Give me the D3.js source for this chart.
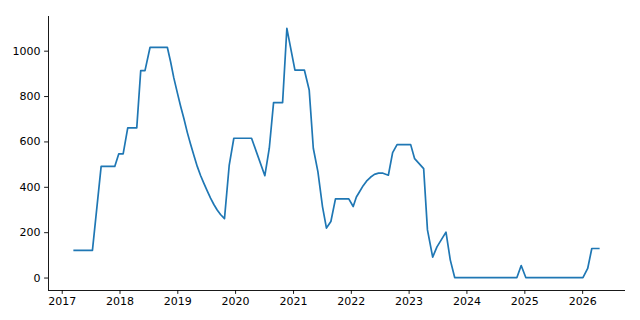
<!DOCTYPE html>
<html>
<head>
<meta charset="utf-8">
<script src="https://cdn.jsdelivr.net/npm/d3@7"></script>
<style>
  body { margin: 0; background: #fff; }
  svg { display: block; }
  .tick text { font-family: "DejaVu Sans", sans-serif; font-size: 11px; fill: #000; }
</style>
</head>
<body>
<div id="chart"></div>
<script>
// Dates of each point
var dates = [
    "2017-03-21", "2017-07-14", "2017-09-07", "2017-12-02", "2017-12-27",
    "2018-01-24", "2018-02-22", "2018-04-20", "2018-05-15", "2018-06-11",
    "2018-07-13", "2018-10-30", "2018-11-20", "2018-12-10", "2019-01-01",
    "2019-01-22", "2019-02-12", "2019-03-05", "2019-03-26", "2019-04-16",
    "2019-05-07", "2019-05-28", "2019-06-18", "2019-07-09", "2019-07-30",
    "2019-08-20", "2019-09-10", "2019-10-01", "2019-10-26", "2019-11-25",
    "2019-12-24", "2020-04-14", "2020-07-07", "2020-08-04", "2020-08-31",
    "2020-10-27", "2020-11-23", "2021-01-13", "2021-03-14", "2021-04-13",
    "2021-05-09", "2021-06-07", "2021-07-06", "2021-07-31", "2021-08-28",
    "2021-09-26", "2021-12-19", "2022-01-16", "2022-02-05", "2022-02-25",
    "2022-03-20", "2022-04-10", "2022-05-05", "2022-05-30", "2022-06-25",
    "2022-07-23", "2022-08-26", "2022-09-22", "2022-10-20", "2023-01-14",
    "2023-02-08", "2023-04-06", "2023-04-30", "2023-06-02", "2023-06-29",
    "2023-08-25", "2023-09-21", "2023-10-19", "2024-11-15", "2024-12-12",
    "2025-01-10", "2026-01-06", "2026-02-05", "2026-03-03", "2026-04-16"
];
// Values at each date
var values = [
    120, 120, 490, 490, 545,
    545, 660, 660, 912, 912,
    1015, 1015, 950, 880, 815,
    755, 700, 640, 588, 538,
    490, 450, 415, 382, 350,
    322, 298, 278, 260, 496,
    614, 614, 449, 570, 771,
    771, 1098, 914, 914, 827,
    570, 467, 313, 218, 247,
    347, 347, 313, 355, 378,
    405, 425, 442, 455, 460,
    460, 451, 551, 586, 586,
    524, 480, 210, 90, 135,
    200, 78, 0, 0, 53,
    0, 0, 40, 128, 128
];
var yTicks = [0, 200, 400, 600, 800, 1000];

var width = 640;
var height = 320;
var margin = { top: 16, right: 15, bottom: 30, left: 48 };

var parse = d3.timeParse("%Y-%m-%d");
var data = dates.map((d, i) => ({ date: parse(d), value: values[i] }));

// Matplotlib-like 5% padding on both axes
var xExt = d3.extent(data, d => d.date);
var xPad = (xExt[1] - xExt[0]) * 0.05;
var yExt = d3.extent(data, d => d.value);
var yPad = (yExt[1] - yExt[0]) * 0.05;

var x = d3.scaleTime()
    .domain([new Date(+xExt[0] - xPad), new Date(+xExt[1] + xPad)])
    .range([margin.left, width - margin.right]);
var y = d3.scaleLinear()
    .domain([yExt[0] - yPad, yExt[1] + yPad])
    .range([height - margin.bottom, margin.top]);

var svg = d3.select("#chart")
    .append("svg")
    .attr("width", width)
    .attr("height", height);

// Axes
var xAxis = svg.append("g")
    .attr("transform", `translate(0, ${height - margin.bottom})`)
    .call(d3.axisBottom(x)
        .ticks(d3.timeYear.every(1))
        .tickFormat(d3.timeFormat("%Y"))
        .tickSize(3.9)
        .tickPadding(3));

var yAxis = svg.append("g")
    .attr("transform", `translate(${margin.left}, 0)`)
    .call(d3.axisLeft(y)
        .tickValues(yTicks)
        .tickFormat(d3.format("d"))
        .tickSize(3.9)
        .tickPadding(3.5));

svg.selectAll(".domain")
    .attr("stroke", "#000")
    .attr("stroke-width", 0.9)
    .attr("shape-rendering", "crispEdges");
svg.selectAll(".tick line")
    .attr("stroke", "#000")
    .attr("stroke-width", 0.9);

// Spines without the end ticks d3 adds
xAxis.select(".domain").attr("d", `M${margin.left},0H${width - margin.right}`);
yAxis.select(".domain").attr("d", `M0,${margin.top}V${height - margin.bottom}`);

// Line
var line = d3.line()
    .x(d => x(d.date))
    .y(d => y(d.value));

svg.append("path")
    .datum(data)
    .attr("fill", "none")
    .attr("stroke", "#1f77b4")
    .attr("stroke-width", 1.7)
    .attr("stroke-linejoin", "round")
    .attr("stroke-linecap", "square")
    .attr("d", line);
</script>
</body>
</html>
